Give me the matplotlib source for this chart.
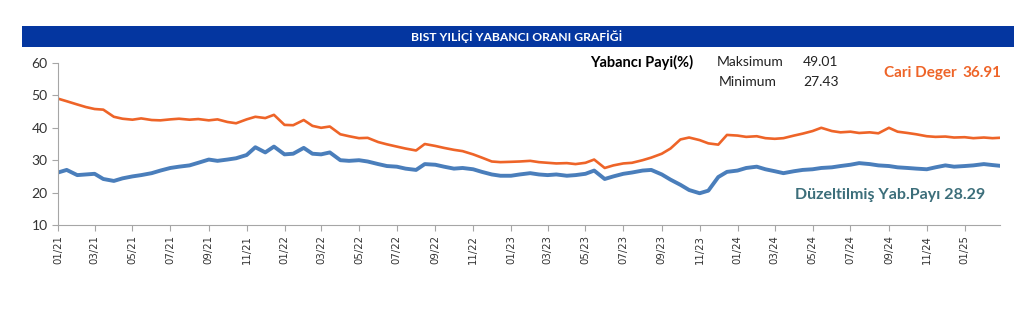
import numpy as np
import pandas as pd
import matplotlib
matplotlib.use('Agg')
import matplotlib.pyplot as plt
import matplotlib.dates as mdates
from matplotlib.patches import Rectangle

## semi-monthly points (1st and 15th) Jan 2021 - Feb 2025, plus last value
dates = list(pd.date_range('2021-01-01', '2025-02-15', freq='SMS')) + [pd.Timestamp('2025-02-26')]

cari_deger = [
    # 2021
    49.0, 48.2, 47.2, 46.4, 45.8, 45.6, 43.4, 42.8, 42.5, 42.9, 42.4, 42.3,
    42.6, 42.8, 42.5, 42.7, 42.3, 42.6, 41.8, 41.4, 42.6, 43.4, 43.0, 44.0,
    # 2022
    40.9, 40.8, 42.4, 40.6, 40.0, 40.4, 38.0, 37.4, 36.8, 36.9, 35.6, 34.9,
    34.2, 33.6, 33.0, 35.0, 34.4, 33.8, 33.2, 32.8, 31.8, 30.8, 29.6, 29.4,
    # 2023
    29.5, 29.6, 29.8, 29.4, 29.2, 29.0, 29.1, 28.8, 29.2, 30.2, 27.6, 28.4,
    29.0, 29.2, 30.0, 30.8, 32.0, 33.6, 36.4, 37.0, 36.2, 35.2, 34.8, 37.8,
    # 2024
    37.6, 37.2, 37.4, 36.8, 36.6, 36.8, 37.6, 38.2, 39.0, 40.0, 39.0, 38.6,
    38.8, 38.4, 38.6, 38.3, 40.0, 38.8, 38.4, 38.0, 37.4, 37.2, 37.3, 37.0,
    # 2025
    37.1, 36.8, 37.0, 36.8, 36.91,
]

duzeltilmis = [
    # 2021
    26.2, 27.0, 25.4, 25.6, 25.8, 24.2, 23.6, 24.4, 25.0, 25.4, 26.0, 26.8,
    27.6, 28.0, 28.4, 29.2, 30.2, 29.8, 30.2, 30.6, 31.6, 34.0, 32.4, 34.2,
    # 2022
    31.8, 32.0, 33.8, 32.0, 31.8, 32.4, 30.0, 29.8, 30.0, 29.6, 28.8, 28.2,
    28.0, 27.4, 27.0, 28.8, 28.6, 28.0, 27.4, 27.6, 27.2, 26.4, 25.6, 25.2,
    # 2023
    25.2, 25.6, 26.0, 25.6, 25.4, 25.6, 25.2, 25.4, 25.8, 26.8, 24.2, 25.0,
    25.8, 26.2, 26.8, 27.0, 25.6, 24.0, 22.4, 20.8, 19.8, 20.6, 24.8, 26.4,
    # 2024
    26.8, 27.6, 28.0, 27.2, 26.6, 26.0, 26.6, 27.0, 27.2, 27.6, 27.8, 28.2,
    28.6, 29.1, 28.8, 28.4, 28.2, 27.8, 27.6, 27.4, 27.2, 27.8, 28.4, 28.0,
    # 2025
    28.2, 28.4, 28.8, 28.5, 28.29,
]

maksimum = 49.01
minimum = 27.43
cari_son = 36.91
duz_son = 28.29

orange = '#EE6428'
blue = '#4A7EBB'
W, H = 1024, 311

fig = plt.figure(figsize=(W / 100, H / 100), dpi=100)

## banner on top
fig.patches.append(Rectangle((22 / W, 1 - 47 / H), (1014 - 22) / W, 21 / H,
                             transform=fig.transFigure, facecolor='#0436A0',
                             edgecolor='none'))
fig.text(517 / W, 1 - 37 / H, 'BIST YILİÇİ YABANCI ORANI GRAFİĞİ', color='white',
         fontsize=8.7, fontweight='bold', family='Lato', ha='center', va='center')

ax = fig.add_axes([58 / W, 1 - 225 / H, (1000 - 58) / W, (225 - 63) / H])
ax.plot(dates, duzeltilmis, color=blue, lw=2.8, solid_joinstyle='round')
ax.plot(dates, cari_deger, color=orange, lw=1.9, solid_joinstyle='round')

ax.set_ylim(10, 60)
ax.set_yticks([10, 20, 30, 40, 50, 60])
ax.set_xlim(pd.Timestamp('2021-01-01'), pd.Timestamp('2025-02-27'))
ax.xaxis.set_major_locator(mdates.MonthLocator(bymonth=[1, 3, 5, 7, 9, 11]))
ax.xaxis.set_major_formatter(mdates.DateFormatter('%m/%y'))

for s in ['top', 'right']:
    ax.spines[s].set_visible(False)
for s in ['left', 'bottom']:
    ax.spines[s].set_color('#a6a6a6')
ax.tick_params(axis='x', rotation=90, labelsize=7.3, colors='#a6a6a6', labelcolor='#333333', length=4)
ax.tick_params(axis='y', labelsize=10, colors='#a6a6a6', labelcolor='#333333', length=4)
for lbl in ax.get_yticklabels():
    lbl.set_family('Lato')

## info texts
fig.text(590 / W, 1 - 62 / H, 'Yabancı Payi(%)', fontsize=10.5, fontweight='bold', family='Lato', va='center')
fig.text(717 / W, 1 - 62 / H, 'Maksimum', fontsize=10, family='Lato', va='center', color='#222222')
fig.text(803 / W, 1 - 62 / H, f'{maksimum:.2f}', fontsize=10, family='Lato', va='center', color='#222222')
fig.text(719 / W, 1 - 82 / H, 'Minimum', fontsize=10, family='Lato', va='center', color='#222222')
fig.text(803 / W, 1 - 82 / H, f'{minimum:.2f}', fontsize=10, family='Lato', va='center', color='#222222')
fig.text(884 / W, 1 - 73 / H, 'Cari Deger', fontsize=11, fontweight='bold', family='Lato', va='center', color=orange)
fig.text(962 / W, 1 - 73 / H, f'{cari_son:.2f}', fontsize=11, fontweight='bold', family='Lato', va='center', color=orange)
fig.text(795 / W, 1 - 195 / H, f'Düzeltilmiş Yab.Payı {duz_son:.2f}', fontsize=11.5, fontweight='bold',
         family='Lato', va='center', color='#3C6E7A')

plt.savefig('out.png', dpi=100)
plt.close()
